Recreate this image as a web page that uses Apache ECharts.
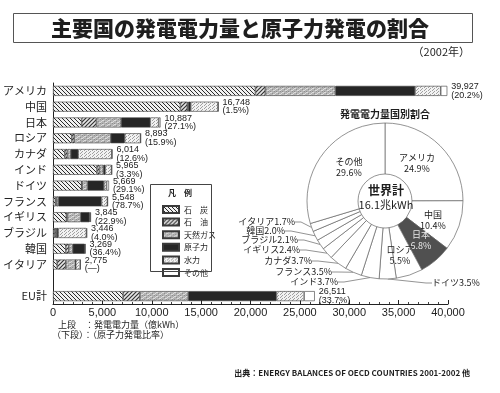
<!DOCTYPE html>
<html><head><meta charset="utf-8">
<script src="https://cdn.jsdelivr.net/npm/echarts@6/dist/echarts.min.js"></script>
<style>html,body{margin:0;padding:0;background:#fff}#c{width:500px;height:393px}</style>
</head><body><div id="c"></div>
<script>
// ---- data ----
const categories = ['アメリカ','中国','日本','ロシア','カナダ','インド','ドイツ','フランス','イギリス','ブラジル','韓国','イタリア','','EU計'];
const coal    = [20500,12900,2900,1900,1200,4450,2900, 250,1350, 130,1300, 420,null,7100];
const oil     = [ 1000,  700,1500, 250, 250, 250,  50, 100, 100, 150, 300, 880,null,1700];
const gas     = [ 7100,  100,2500,3700, 350, 400, 560, 200,1350, 120, 400,1000,null,4900];
const nuclear = [ 8065,  251,2950,1414, 758, 197,1650,4366, 880, 138,1190,   0,null,8934];
const hydro   = [ 2600, 2770, 850,1600,3400, 640, 270, 600,  80,2850,  50, 470,null,2800];
const other   = [  662,   27, 187,  29,  56,  28, 239,  32,  85,  58,  29,   5,null,1077];
const totals  = [39927,16748,10887,8893,6014,5965,5669,5548,3845,3446,3269,2775,null,26511];
const nuclearShare = ['20.2','1.5','27.1','15.9','12.6','3.3','29.1','78.7','22.9','4.0','36.4','—','','33.7'];
const seriesNames = ['石　炭','石　油','天然ガス','原子力','水力','その他'];
const xTicks = [0,5000,10000,15000,20000,25000,30000,35000,40000];

const pieNames  = ['アメリカ','中国','日本','ロシア','ドイツ','インド','フランス','カナダ','イギリス','ブラジル','韓国','イタリア','その他'];
const pieShares = [24.9,10.4,6.8,5.5,3.5,3.7,3.5,3.7,2.4,2.1,2.0,1.7,29.6];

// ---- styles ----
const JP = '"Noto Sans CJK JP","Noto Sans",sans-serif';
function mk(w,h,draw){const c=document.createElement('canvas');c.width=w;c.height=h;const g=c.getContext('2d');draw(g,w,h);return {image:c,repeat:'repeat'};}
const coalPat = mk(4,4,(g,w,h)=>{g.fillStyle='#f0f0f0';g.fillRect(0,0,w,h);g.strokeStyle='#2a2a2a';g.lineWidth=1;g.beginPath();
  g.moveTo(-1,-1);g.lineTo(5,5);g.moveTo(-1,3);g.lineTo(1,5);g.moveTo(3,-1);g.lineTo(5,1);g.stroke();});
const oilPat = mk(4,4,(g,w,h)=>{g.fillStyle='#e6e6e6';g.fillRect(0,0,w,h);g.strokeStyle='#333';g.lineWidth=1.2;g.beginPath();
  g.moveTo(-1,5);g.lineTo(5,-1);g.moveTo(-1,1);g.lineTo(1,-1);g.moveTo(3,5);g.lineTo(5,3);g.stroke();});
const gasPat = mk(6,4,(g,w,h)=>{g.fillStyle='#b4b4b4';g.fillRect(0,0,w,h);g.fillStyle='#dcdcdc';
  g.fillRect(0,0,2,1);g.fillRect(3,2,2,1);g.fillRect(5,1,1,1);g.fillStyle='#8e8e8e';g.fillRect(2,1,1,1);g.fillRect(0,3,1,1);g.fillRect(4,3,1,1);});
const hydroPat = mk(4,3,(g,w,h)=>{g.fillStyle='#f2f2f2';g.fillRect(0,0,w,h);g.fillStyle='#a0a0a0';g.fillRect(0,0,1,1);g.fillRect(2,1,1,1);g.fillRect(1,2,1,1);});
const fills = [coalPat, oilPat, gasPat, '#262626', hydroPat, '#ffffff'];
const segs = [coal, oil, gas, nuclear, hydro, other];

const barSeries = segs.map((arr,i)=>({
  name: seriesNames[i], type:'bar', stack:'t', barWidth:10, data: arr,
  itemStyle:{color:fills[i], borderColor:'#3a3a3a', borderWidth:0.6},
  label: i===5 ? {show:true, position:'right', distance:4, color:'#222', fontSize:9, lineHeight:8.5,
    fontFamily:'"Liberation Sans",Arial,sans-serif',
    formatter:(p)=> totals[p.dataIndex]==null ? '' : totals[p.dataIndex].toLocaleString('en-US') + '\n(' + nuclearShare[p.dataIndex] + (nuclearShare[p.dataIndex]==='—'?'':'%') + ')'} : {show:false},
  emphasis:{disabled:true}, animation:false
}));

// label anchor positions (text placement only)
const pieLabelPos = {
  'アメリカ':[417,163,'center'], '中国':[433,220,'center'], '日本':[421,240,'center'], 'ロシア':[400,255,'center'], 'その他':[349,167,'center'],
  'イタリア':[295,222,'right'], '韓国':[285,231,'right'], 'ブラジル':[298,240,'right'], 'イギリス':[300,250,'right'],
  'カナダ':[312,261,'right'], 'フランス':[332,272,'right'], 'インド':[338,282,'right'], 'ドイツ':[432,283,'left']
};
const isOuter = (n)=> pieLabelPos[n][2] !== 'center';
const pieData = pieNames.map((n,i)=>({
  name:n, value:pieShares[i],
  itemStyle:{color: n==='日本' ? '#505050' : '#fff'},
  label: isOuter(n)
    ? {position:'outside', formatter:(p)=>p.name + p.value.toFixed(1) + '%'}
    : {position:'inside', formatter:(p)=>p.name + '\n' + p.value.toFixed(1) + '%', color: n==='日本' ? '#e8e8e8' : '#222'},
  labelLine:{show: isOuter(n)}
}));

const T = (x,y,text,font,align,z)=>({type:'text', x, y, z: z||50, style:{text, font, fill:'#1e1e1e', align, verticalAlign:'middle', textAlign:align, textVerticalAlign:'middle'}});

const chart = echarts.init(document.getElementById('c'), null, {renderer:'canvas'});
chart.setOption({
  backgroundColor:'#fff', animation:false,
  grid:{left:53, top:83, width:395, height:221},
  xAxis:{type:'value', min:0, max:40000, interval:5000,
    axisLine:{show:true, lineStyle:{color:'#222', width:1}},
    axisTick:{show:true, inside:true, length:4, lineStyle:{color:'#222'}},
    minorTick:{show:true, splitNumber:5, length:2, lineStyle:{color:'#444'}},
    splitLine:{show:false},
    axisLabel:{margin:3, color:'#222', fontSize:11, fontFamily:'"Liberation Sans",Arial,sans-serif',
      formatter:(v)=> xTicks.includes(v) ? v.toLocaleString('en-US') : ''}},
  yAxis:{type:'category', data:categories, inverse:true,
    axisLine:{show:true, lineStyle:{color:'#222', width:1}}, axisTick:{show:false},
    axisLabel:{margin:6, color:'#222', fontSize:11, fontFamily:JP}},
  legend:{orient:'vertical', left:157, top:200, itemWidth:16, itemHeight:7, itemGap:3.6, icon:'rect',
    textStyle:{fontSize:8, lineHeight:8, color:'#222', fontFamily:JP}, selectedMode:false,
    data: seriesNames},
  series: barSeries.concat([{
    type:'pie', center:[385,201], radius:[27,78], startAngle:90, clockwise:true, avoidLabelOverlap:false,
    data: pieData, animation:false, emphasis:{disabled:true},
    itemStyle:{borderColor:'#666', borderWidth:0.7},
    label:{fontSize:9, lineHeight:11, color:'#222', fontFamily:JP},
    labelLine:{length:6, length2:6, lineStyle:{color:'#666', width:0.7}},
    labelLayout:(p)=>{ const o = pieLabelPos[pieNames[p.dataIndex]];
      return {x:o[0], y:o[1], align:o[2], verticalAlign:'middle'}; }
  }]),
  graphic:[
    {type:'rect', z:50, shape:{x:13.5, y:13.5, width:459, height:29}, style:{fill:'none', stroke:'#555', lineWidth:1}},
    T(240,28,'主要国の発電電力量と原子力発電の割合','900 21px '+JP,'center'),
    T(470,52,'（2002年）','11px '+JP,'right'),
    T(385,114,'発電電力量国別割合','bold 10px '+JP,'center'),
    T(386,190,'世界計','bold 12px '+JP,'center'),
    T(386,205,'16.1兆kWh','11px '+JP,'center'),
    {type:'rect', z:50, shape:{x:150.5, y:184.5, width:61, height:87}, style:{fill:'none', stroke:'#444', lineWidth:1}},
    T(180,193,'凡　例','bold 8px '+JP,'center'),
    T(58,325,'上段　：発電電力量（億kWh）','9px '+JP,'left'),
    T(52,335,'（下段）：（原子力発電比率）','9px '+JP,'left'),
    T(470,373,'出典：ENERGY BALANCES OF OECD COUNTRIES 2001-2002 他','bold 8px '+JP,'right')
  ]
});
</script></body></html>
